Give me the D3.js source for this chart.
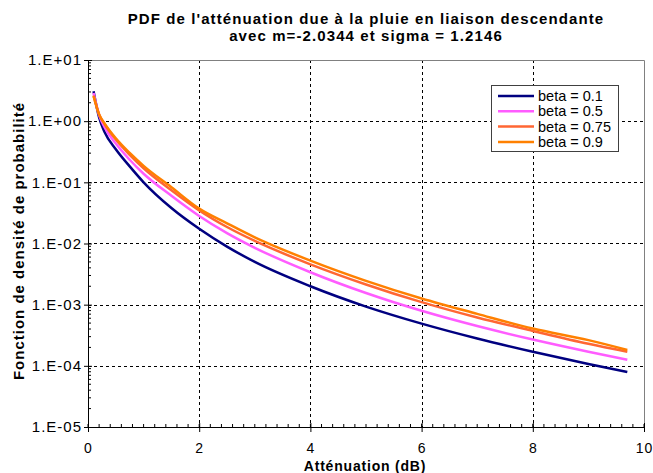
<!DOCTYPE html>
<html>
<head>
<meta charset="utf-8">
<script src="https://cdn.jsdelivr.net/npm/d3@7"></script>
<style>
  body { margin: 0; background: #ffffff; }
  svg { display: block; font-family: "Liberation Sans", Arial, sans-serif; }
</style>
</head>
<body>
<svg id="chart" width="653" height="473"></svg>
<script>
// attenuation values (dB) where the curves were read
var atten = [0.1, 0.2, 0.3, 0.5, 0.75, 1, 1.5, 2, 2.5, 3, 4, 5, 6, 7, 8, 9, 9.7];

var pdfBeta01 = [3.09, 1.15, 0.66, 0.347, 0.182, 0.1, 0.038, 0.0174, 0.0089, 0.005,
	0.002, 0.00093, 0.00049, 0.00028, 0.00017, 0.000107, 0.000079];
var pdfBeta05 = [2.88, 1.26, 0.79, 0.43, 0.234, 0.138, 0.0603, 0.0282, 0.0148, 0.00851,
	0.00339, 0.00155, 0.000794, 0.000447, 0.000269, 0.00017, 0.000126];
var pdfBeta075 = [2.63, 1.29, 0.891, 0.501, 0.282, 0.17, 0.0741, 0.0347, 0.0186, 0.011,
	0.00457, 0.00214, 0.0011, 0.000617, 0.000372, 0.000229, 0.00017];
var pdfBeta09 = [2.57, 1.29, 0.912, 0.525, 0.302, 0.186, 0.0832, 0.0372, 0.0214, 0.0126,
	0.00525, 0.00245, 0.00126, 0.000708, 0.000407, 0.000263, 0.000182];

var seriesNames = ["beta = 0.1", "beta = 0.5", "beta = 0.75", "beta = 0.9"];
var seriesColors = ["#000080", "#ff5cff", "#ff6633", "#ff8000"];

var xTicks = [0, 2, 4, 6, 8, 10];
var yTicks = [10, 1, 0.1, 0.01, 0.001, 0.0001, 0.00001];
var yTickLabels = ["1.E+01", "1.E+00", "1.E-01", "1.E-02", "1.E-03", "1.E-04", "1.E-05"];

var titleLines = ["PDF de l'atténuation due à la pluie en liaison descendante",
	"avec m=-2.0344 et sigma = 1.2146"];
var xTitle = "Atténuation (dB)";
var yTitle = "Fonction de densité de probabilité";

var allSeries = [pdfBeta01, pdfBeta05, pdfBeta075, pdfBeta09];

var svg = d3.select("#chart");
var plotLeft = 88, plotRight = 644, plotTop = 60, plotBottom = 427;

var x = d3.scaleLinear().domain([0, 10]).range([plotLeft, plotRight]);
var y = d3.scaleLog().domain([0.00001, 10]).range([plotBottom, plotTop]);

/* GRID */
var grid = svg.append("g")
	.attr("stroke", "#000")
	.attr("stroke-width", 1)
	.attr("stroke-dasharray", "3,3")
	.attr("shape-rendering", "crispEdges");

grid.selectAll("line.v")
	.data([2, 4, 6, 8])
	.enter()
	.append("line")
	.attr("x1", function(d) { return Math.round(x(d)) + 0.5; })
	.attr("x2", function(d) { return Math.round(x(d)) + 0.5; })
	.attr("y1", plotTop)
	.attr("y2", plotBottom);

grid.selectAll("line.h")
	.data([1, 0.1, 0.01, 0.001, 0.0001])
	.enter()
	.append("line")
	.attr("x1", plotLeft)
	.attr("x2", plotRight)
	.attr("y1", function(d) { return Math.round(y(d)) + 0.5; })
	.attr("y2", function(d) { return Math.round(y(d)) + 0.5; });

/* PLOT AREA BORDER */
svg.append("path")
	.attr("d", "M" + plotLeft + "," + (plotTop + 0.5) + "H" + (plotRight + 0.5) + "V" + plotBottom)
	.attr("fill", "none")
	.attr("stroke", "#808080")
	.attr("stroke-width", 1);

/* AXES */
var xAxis = d3.axisBottom(x)
	.tickValues(xTicks)
	.tickSizeInner(5)
	.tickSizeOuter(0)
	.tickPadding(11)
	.tickFormat(d3.format("d"));

var gx = svg.append("g")
	.attr("transform", "translate(0," + plotBottom + ")")
	.call(xAxis);

// minor ticks every 0.2, pointing up
gx.selectAll("line.minor")
	.data(d3.range(0, 10.01, 0.2))
	.enter()
	.append("line")
	.attr("x1", function(d) { return x(d); })
	.attr("x2", function(d) { return x(d); })
	.attr("y1", 0)
	.attr("y2", -3)
	.attr("stroke", "#000");
gx.selectAll(".tick line").attr("y1", -4);

var yAxis = d3.axisLeft(y)
	.tickValues(yTicks)
	.tickSizeInner(4)
	.tickSizeOuter(0)
	.tickPadding(2)
	.tickFormat(function(d, i) { return yTickLabels[i]; });

var gy = svg.append("g")
	.attr("transform", "translate(" + plotLeft + ",0)")
	.call(yAxis);

var minorY = [];
yTicks.slice(1).forEach(function(d) {
	for (var k = 2; k <= 9; k++) minorY.push(d * k);
});
gy.selectAll("line.minor")
	.data(minorY)
	.enter()
	.append("line")
	.attr("x1", 0)
	.attr("x2", 3)
	.attr("y1", function(d) { return y(d); })
	.attr("y2", function(d) { return y(d); })
	.attr("stroke", "#000");
gy.selectAll(".tick line").attr("x1", 4);

svg.selectAll(".domain").attr("stroke", "#000");
svg.selectAll(".tick text")
	.attr("font-family", "Liberation Sans, Arial, sans-serif")
	.attr("font-size", "15px")
	.attr("letter-spacing", "1px")
	.attr("fill", "#000");
gx.selectAll(".tick text").attr("font-size", "14px");

/* CURVES */
var line = d3.line()
	.x(function(d) { return x(d[0]); })
	.y(function(d) { return y(d[1]); })
	.curve(d3.curveMonotoneX);

svg.append("g").selectAll("path")
	.data(allSeries)
	.enter()
	.append("path")
	.attr("d", function(s) {
		return line(s.map(function(v, i) { return [atten[i], v]; }));
	})
	.attr("fill", "none")
	.attr("stroke", function(d, i) { return seriesColors[i]; })
	.attr("stroke-width", 2.5);

/* TITLES */
svg.selectAll("text.title")
	.data(titleLines)
	.enter()
	.append("text")
	.attr("class", "title")
	.attr("x", 366)
	.attr("y", function(d, i) { return 24 + i * 17; })
	.attr("text-anchor", "middle")
	.attr("font-size", "15px")
	.attr("font-weight", "bold")
	.attr("letter-spacing", "1.1px")
	.text(function(d) { return d; });

svg.append("text")
	.attr("x", 365)
	.attr("y", 471)
	.attr("text-anchor", "middle")
	.attr("font-size", "14px")
	.attr("font-weight", "bold")
	.attr("letter-spacing", "0.8px")
	.text(xTitle);

svg.append("text")
	.attr("transform", "translate(24,241) rotate(-90)")
	.attr("text-anchor", "middle")
	.attr("font-size", "15px")
	.attr("font-weight", "bold")
	.attr("letter-spacing", "1px")
	.text(yTitle);

/* LEGEND */
var legend = svg.append("g").attr("transform", "translate(491,85)");
legend.append("rect")
	.attr("x", 0.5)
	.attr("y", 0.5)
	.attr("width", 127)
	.attr("height", 66)
	.attr("fill", "#fff")
	.attr("stroke", "#404040");

var items = legend.selectAll("g.item")
	.data(seriesNames)
	.enter()
	.append("g")
	.attr("transform", function(d, i) { return "translate(0," + (11 + i * 15.3) + ")"; });

items.append("line")
	.attr("x1", 7)
	.attr("x2", 43)
	.attr("stroke", function(d, i) { return seriesColors[i]; })
	.attr("stroke-width", 2.5);

items.append("text")
	.attr("x", 47)
	.attr("dy", "0.35em")
	.attr("font-size", "14.5px")
	.text(function(d) { return d; });
</script>
</body>
</html>
